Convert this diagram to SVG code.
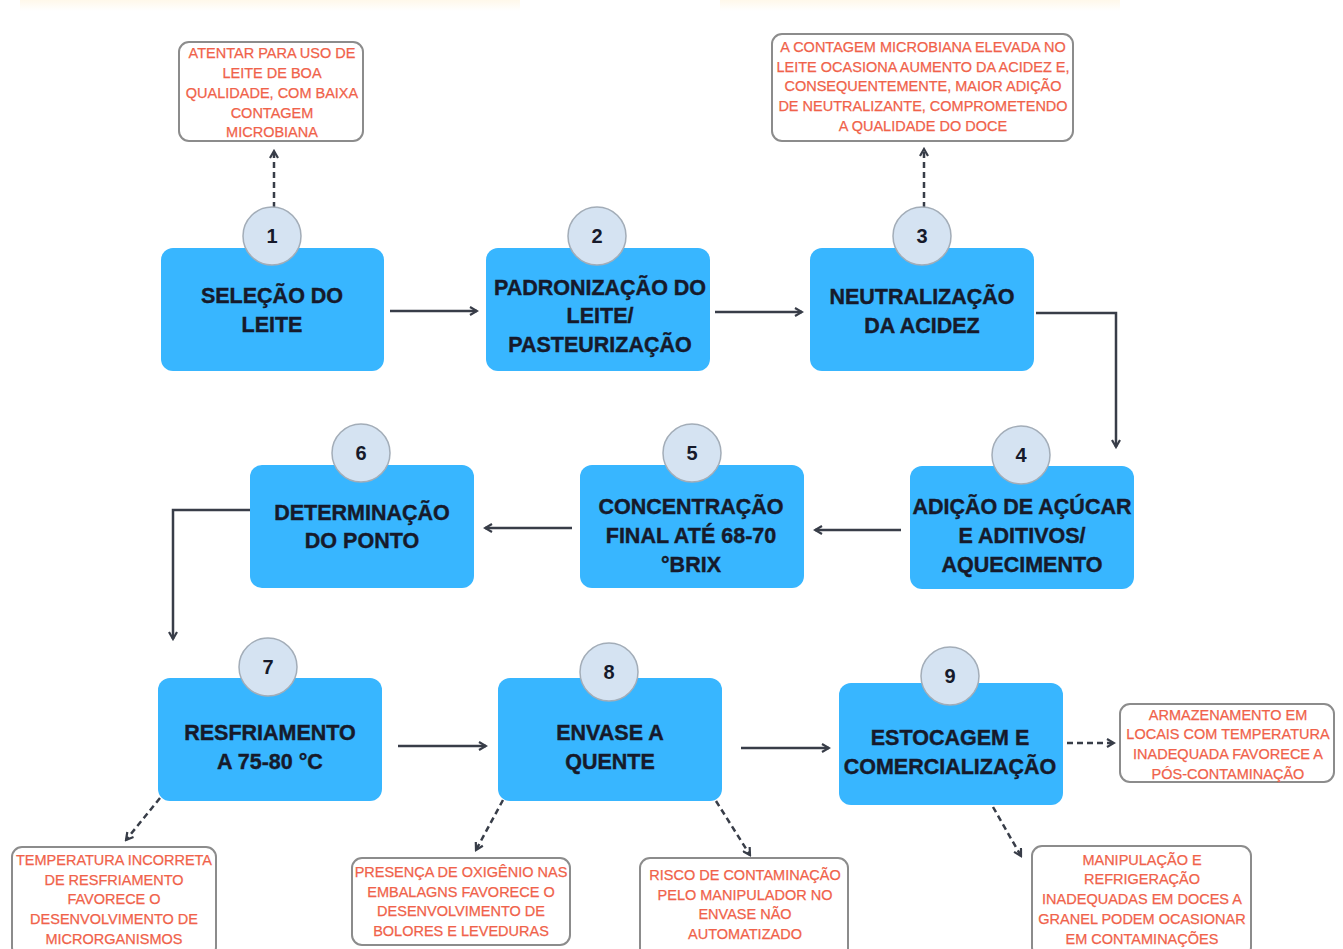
<svg xmlns="http://www.w3.org/2000/svg" width="1343" height="949" viewBox="0 0 1343 949">
<defs>
<style>
.box{fill:#38b6ff;}
.bt{font-family:"Liberation Sans",Arial,sans-serif;font-weight:bold;font-size:21.5px;fill:#161a2b;text-anchor:middle;stroke:#161a2b;stroke-width:0.4;}
.circ{fill:#d5e3f2;stroke:#a3adb8;stroke-width:1.5;}
.num{font-family:"Liberation Sans",Arial,sans-serif;font-weight:bold;font-size:20px;fill:#161a2b;text-anchor:middle;}
.note{fill:#ffffff;stroke:#8c8c8c;stroke-width:2;}
.nt{font-family:"Liberation Sans",Arial,sans-serif;font-size:14.5px;fill:#f0624a;stroke:#f0624a;stroke-width:0.25;text-anchor:middle;}
.solid{fill:none;stroke:#383d48;stroke-width:2.5;marker-end:url(#ah);}
.dash{fill:none;stroke:#383d48;stroke-width:2.5;stroke-dasharray:6 4;marker-end:url(#ah);}
</style>
<marker id="ah" viewBox="0 0 10 10" refX="8" refY="5" markerWidth="4" markerHeight="4" orient="auto" markerUnits="strokeWidth">
<path d="M1,1 L8,5 L1,9" fill="none" stroke="#383d48" stroke-width="2.2" stroke-linejoin="miter"/>
</marker>
<linearGradient id="top" x1="0" y1="0" x2="0" y2="1">
<stop offset="0" stop-color="#fff8ea"/>
<stop offset="1" stop-color="#ffffff"/>
</linearGradient>
</defs>
<rect width="1343" height="949" fill="#ffffff"/>
<rect x="20" y="0" width="500" height="11" fill="url(#top)"/>
<rect x="720" y="0" width="400" height="11" fill="url(#top)"/>

<g id="connectors">
<path class="solid" d="M390,311 H477"/>
<path class="solid" d="M715,312 H802"/>
<path class="solid" d="M1036,313 H1116 V447"/>
<path class="solid" d="M901,530 H815"/>
<path class="solid" d="M572,528 H485"/>
<path class="solid" d="M250,510 H173 V639"/>
<path class="solid" d="M398,746 H486"/>
<path class="solid" d="M741,748 H829"/>
<path class="dash" d="M274,208 V151"/>
<path class="dash" d="M924,208 V149"/>
<path class="dash" d="M160,798 L126,840"/>
<path class="dash" d="M503,800 L476,850"/>
<path class="dash" d="M716,801 L750,855"/>
<path class="dash" d="M1067,743 H1114"/>
<path class="dash" d="M993,807 L1021,856"/>
</g>

<g id="node1">
<rect class="box" x="161" y="248" width="223" height="123" rx="12"/>
<circle class="circ" cx="272" cy="236" r="29"/>
<text class="num" x="272" y="243">1</text>
<text class="bt" x="272" y="303">SELEÇÃO DO</text>
<text class="bt" x="272" y="332">LEITE</text>
</g>
<g id="node2">
<rect class="box" x="486" y="248" width="224" height="123" rx="12"/>
<circle class="circ" cx="597" cy="236" r="29"/>
<text class="num" x="597" y="243">2</text>
<text class="bt" x="600" y="295">PADRONIZAÇÃO DO</text>
<text class="bt" x="600" y="323">LEITE/</text>
<text class="bt" x="600" y="352">PASTEURIZAÇÃO</text>
</g>
<g id="node3">
<rect class="box" x="810" y="248" width="224" height="123" rx="12"/>
<circle class="circ" cx="922" cy="236" r="29"/>
<text class="num" x="922" y="243">3</text>
<text class="bt" x="922" y="304">NEUTRALIZAÇÃO</text>
<text class="bt" x="922" y="333">DA ACIDEZ</text>
</g>
<g id="node4">
<rect class="box" x="910" y="466" width="224" height="123" rx="12"/>
<circle class="circ" cx="1021" cy="455" r="29"/>
<text class="num" x="1021" y="462">4</text>
<text class="bt" x="1022" y="514">ADIÇÃO DE AÇÚCAR</text>
<text class="bt" x="1022" y="543">E ADITIVOS/</text>
<text class="bt" x="1022" y="572">AQUECIMENTO</text>
</g>
<g id="node5">
<rect class="box" x="580" y="465" width="224" height="123" rx="12"/>
<circle class="circ" cx="692" cy="453" r="29"/>
<text class="num" x="692" y="460">5</text>
<text class="bt" x="691" y="514">CONCENTRAÇÃO</text>
<text class="bt" x="691" y="543">FINAL ATÉ 68-70</text>
<text class="bt" x="691" y="572">°BRIX</text>
</g>
<g id="node6">
<rect class="box" x="250" y="465" width="224" height="123" rx="12"/>
<circle class="circ" cx="361" cy="453" r="29"/>
<text class="num" x="361" y="460">6</text>
<text class="bt" x="362" y="520">DETERMINAÇÃO</text>
<text class="bt" x="362" y="548">DO PONTO</text>
</g>
<g id="node7">
<rect class="box" x="158" y="678" width="224" height="123" rx="12"/>
<circle class="circ" cx="268" cy="667" r="29"/>
<text class="num" x="268" y="674">7</text>
<text class="bt" x="270" y="740">RESFRIAMENTO</text>
<text class="bt" x="270" y="769">A 75-80 °C</text>
</g>
<g id="node8">
<rect class="box" x="498" y="678" width="224" height="123" rx="12"/>
<circle class="circ" cx="609" cy="672" r="29"/>
<text class="num" x="609" y="679">8</text>
<text class="bt" x="610" y="740">ENVASE A</text>
<text class="bt" x="610" y="769">QUENTE</text>
</g>
<g id="node9">
<rect class="box" x="839" y="683" width="224" height="122" rx="12"/>
<circle class="circ" cx="950" cy="676" r="29"/>
<text class="num" x="950" y="683">9</text>
<text class="bt" x="950" y="745">ESTOCAGEM E</text>
<text class="bt" x="950" y="774">COMERCIALIZAÇÃO</text>
</g>

<g id="note1">
<rect class="note" x="179" y="42" width="184" height="99" rx="10"/>
<text class="nt" x="272" y="58">ATENTAR PARA USO DE</text>
<text class="nt" x="272" y="78">LEITE DE BOA</text>
<text class="nt" x="272" y="98">QUALIDADE, COM BAIXA</text>
<text class="nt" x="272" y="118">CONTAGEM</text>
<text class="nt" x="272" y="137">MICROBIANA</text>
</g>
<g id="note3">
<rect class="note" x="772" y="34" width="301" height="107" rx="10"/>
<text class="nt" x="923" y="52">A CONTAGEM MICROBIANA ELEVADA NO</text>
<text class="nt" x="923" y="72">LEITE OCASIONA AUMENTO DA ACIDEZ E,</text>
<text class="nt" x="923" y="91">CONSEQUENTEMENTE, MAIOR ADIÇÃO</text>
<text class="nt" x="923" y="111">DE NEUTRALIZANTE, COMPROMETENDO</text>
<text class="nt" x="923" y="131">A QUALIDADE DO DOCE</text>
</g>
<g id="note7">
<rect class="note" x="12" y="847" width="204" height="110" rx="10"/>
<text class="nt" x="114" y="865">TEMPERATURA INCORRETA</text>
<text class="nt" x="114" y="885">DE RESFRIAMENTO</text>
<text class="nt" x="114" y="904">FAVORECE O</text>
<text class="nt" x="114" y="924">DESENVOLVIMENTO DE</text>
<text class="nt" x="114" y="944">MICRORGANISMOS</text>
</g>
<g id="note8a">
<rect class="note" x="352" y="858" width="218" height="87" rx="10"/>
<text class="nt" x="461" y="877">PRESENÇA DE OXIGÊNIO NAS</text>
<text class="nt" x="461" y="897">EMBALAGNS FAVORECE O</text>
<text class="nt" x="461" y="916">DESENVOLVIMENTO DE</text>
<text class="nt" x="461" y="936">BOLORES E LEVEDURAS</text>
</g>
<g id="note8b">
<rect class="note" x="640" y="858" width="208" height="100" rx="10"/>
<text class="nt" x="745" y="880">RISCO DE CONTAMINAÇÃO</text>
<text class="nt" x="745" y="900">PELO MANIPULADOR NO</text>
<text class="nt" x="745" y="919">ENVASE NÃO</text>
<text class="nt" x="745" y="939">AUTOMATIZADO</text>
</g>
<g id="note9r">
<rect class="note" x="1120" y="704" width="214" height="78" rx="10"/>
<text class="nt" x="1228" y="720">ARMAZENAMENTO EM</text>
<text class="nt" x="1228" y="739">LOCAIS COM TEMPERATURA</text>
<text class="nt" x="1228" y="759">INADEQUADA FAVORECE A</text>
<text class="nt" x="1228" y="779">PÓS-CONTAMINAÇÃO</text>
</g>
<g id="note9d">
<rect class="note" x="1032" y="846" width="219" height="111" rx="10"/>
<text class="nt" x="1142" y="865">MANIPULAÇÃO E</text>
<text class="nt" x="1142" y="884">REFRIGERAÇÃO</text>
<text class="nt" x="1142" y="904">INADEQUADAS EM DOCES A</text>
<text class="nt" x="1142" y="924">GRANEL PODEM OCASIONAR</text>
<text class="nt" x="1142" y="944">EM CONTAMINAÇÕES</text>
</g>
</svg>
